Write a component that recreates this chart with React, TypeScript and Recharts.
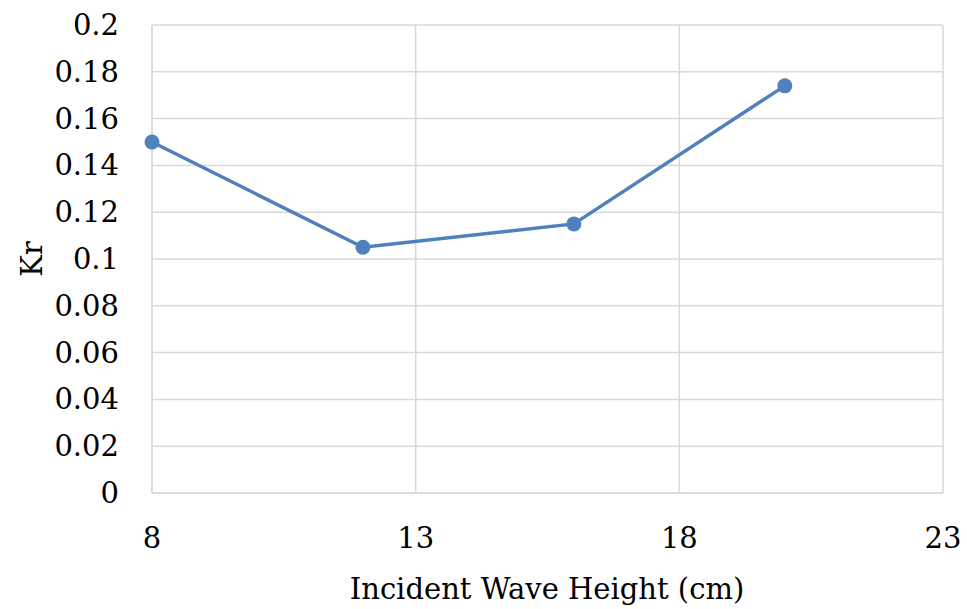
import { CartesianGrid, Label, Line, LineChart, XAxis, YAxis } from "recharts";

const waveHeights = [8, 12, 16, 20];
const krValues = [0.15, 0.105, 0.115, 0.174];
const xTicks = [8, 13, 18, 23];
const yTicks = [0, 0.02, 0.04, 0.06, 0.08, 0.1, 0.12, 0.14, 0.16, 0.18, 0.2];

const data = waveHeights.map((h, i) => ({ h, kr: krValues[i] }));

// "Liberation Serif" comes out sans here, DejaVu Serif is the serif that works
const textStyle = { fontFamily: "'DejaVu Serif', serif" };
const fs = 29;

function XTick({ x, y, payload }: any) {
  return (
    <text x={x} y={y + 21} textAnchor="middle" style={textStyle} fontSize={fs} fill="#000">
      {payload.value}
    </text>
  );
}

function YTick({ x, y, payload }: any) {
  return (
    <text x={x} y={y + 10} textAnchor="end" style={textStyle} fontSize={fs} fill="#000">
      {payload.value}
    </text>
  );
}

function YTitle() {
  const cx = 32;
  const cy = 259;
  return (
    <text
      x={cx}
      y={cy}
      transform={`rotate(-90 ${cx} ${cy})`}
      textAnchor="middle"
      dominantBaseline="central"
      style={textStyle}
      fontSize={fs}
      fill="#000"
    >
      Kr
    </text>
  );
}

function XTitle() {
  return (
    <text x={547} y={599} textAnchor="middle" style={textStyle} fontSize={fs} fill="#000">
      Incident Wave Height (cm)
    </text>
  );
}

export default function App() {
  return (
    <div style={{ position: "absolute", left: 0, top: 0, background: "#fff" }}>
      <LineChart width={967} height={609} data={data} margin={{ top: 25, right: 24, bottom: 0, left: 0 }}>
        <CartesianGrid stroke="#d9d9d9" strokeWidth={1.5} />
        <XAxis
          dataKey="h"
          type="number"
          domain={[8, 23]}
          ticks={xTicks}
          height={116}
          axisLine={{ stroke: "#d9d9d9", strokeWidth: 1.5 }}
          tickLine={false}
          tickSize={0}
          tickMargin={34}
          tick={XTick}
        >
          <Label content={XTitle} />
        </XAxis>
        <YAxis
          type="number"
          domain={[0, 0.2]}
          ticks={yTicks}
          width={152}
          axisLine={{ stroke: "#d9d9d9", strokeWidth: 1.5 }}
          tickLine={false}
          tickSize={0}
          tickMargin={33}
          interval={0}
          tick={YTick}
        >
          <Label content={YTitle} />
        </YAxis>
        <Line
          dataKey="kr"
          stroke="#4f81bd"
          strokeWidth={3.5}
          dot={{ r: 7.5, fill: "#4f81bd", stroke: "#4f81bd", strokeWidth: 0 }}
          isAnimationActive={false}
        />
      </LineChart>
    </div>
  );
}
